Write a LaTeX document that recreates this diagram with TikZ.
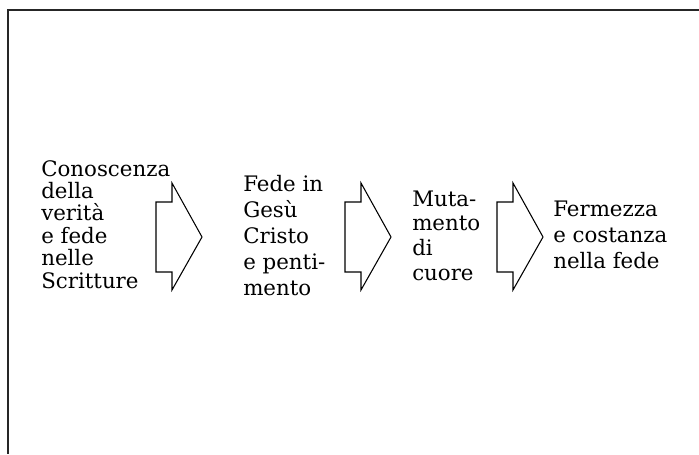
\documentclass[tikz,border=0pt]{standalone}
\usepackage{fontspec}
\setmainfont{DejaVu Serif}

\tikzset{
  stagetext/.style={anchor=base west, align=left, inner sep=0pt,
    font=\fontsize{16}{#1}\selectfont},
  stagetext/.default=19.5pt,
  stagearrow/.pic={
    \draw[line width=0.8pt, line join=miter]
      (0,-35) -- (16,-35) -- (16,-54) -- (46,0) -- (16,53) -- (16,35) -- (0,35) -- cycle;
  }
}

\begin{document}
\begin{tikzpicture}[x=0.75pt, y=-0.75pt]
\useasboundingbox (0,0) rectangle (699,454);
\draw[line width=1.2pt, black!85] (699,10) -| (8,454);

\node[stagetext=16.8pt] (conoscenza) at (41,288) {Conoscenza\\della\\verità\\e fede\\nelle\\Scritture};
\node[stagetext] (fede) at (243,295) {Fede in\\Gesù\\Cristo\\e penti-\\mento};
\node[stagetext=18.4pt] (mutamento) at (412,280) {Muta-\\mento\\di\\cuore};
\node[stagetext] (fermezza) at (553,268) {Fermezza\\e costanza\\nella fede};

\pic at (156,237) {stagearrow};
\pic at (345,237) {stagearrow};
\pic at (497,237) {stagearrow};
\end{tikzpicture}
\end{document}
